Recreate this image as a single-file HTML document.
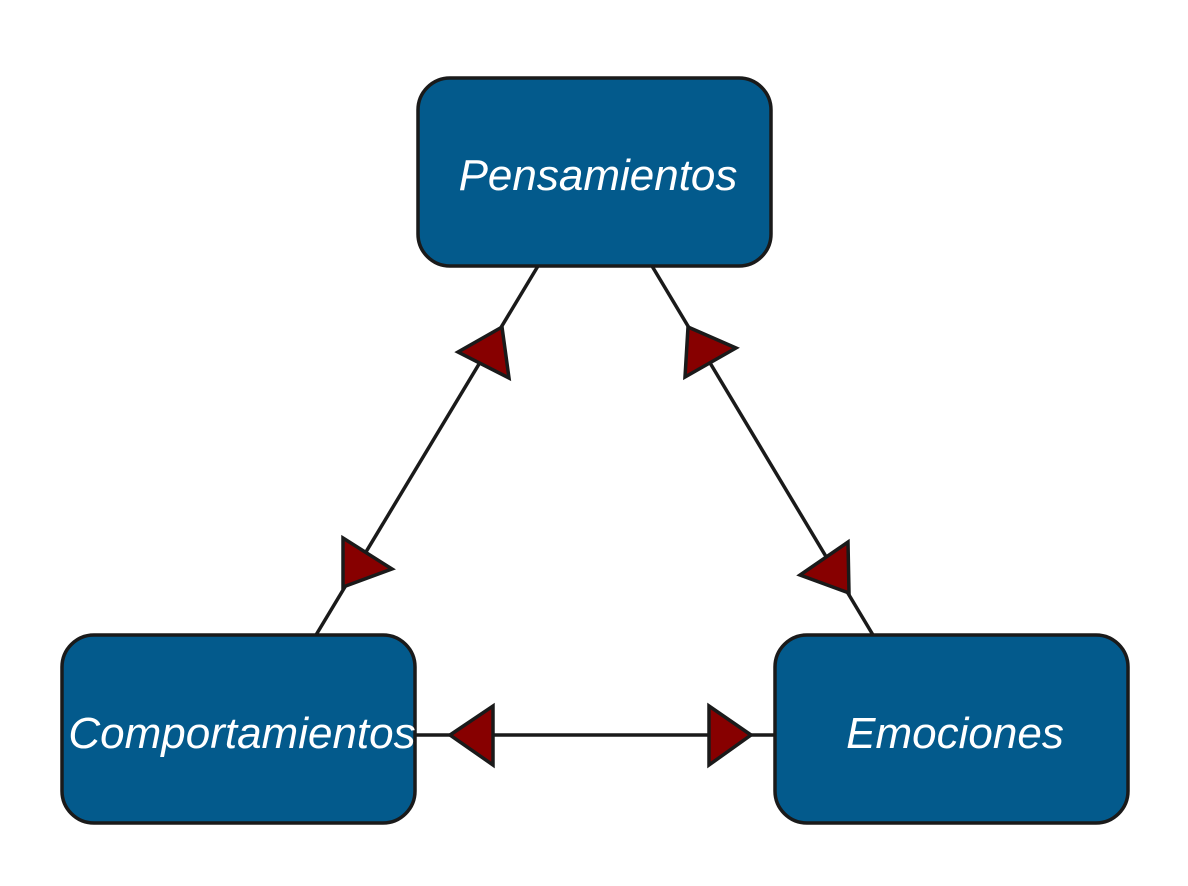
<!DOCTYPE html>
<html><head><meta charset="utf-8"><style>
html,body{margin:0;padding:0;background:#fff;}
svg{display:block;}
text{font-family:"Liberation Sans",sans-serif;font-style:italic;font-size:44px;fill:#fff;}
</style></head><body>
<svg width="1188" height="886" viewBox="0 0 1188 886" xmlns="http://www.w3.org/2000/svg">
<g stroke="#1a1a1a" stroke-width="3.5" fill="none">
<line x1="538" y1="266" x2="316" y2="635"/>
<line x1="652" y1="266" x2="873" y2="635"/>
<line x1="415" y1="735" x2="775" y2="735"/>
</g>
<g fill="#870000" stroke="#1a1a1a" stroke-width="3.5" stroke-linejoin="miter">
<polygon points="458,352 502,327 509,378"/>
<polygon points="343,538 392,569 343,587"/>
<polygon points="688,327 736,348 685,377"/>
<polygon points="848,542 849,593 800,575"/>
<polygon points="450,735 493,706 493,765"/>
<polygon points="751,735 709,706 709,765"/>
</g>
<g fill="#035a8c" stroke="#1a1a1a" stroke-width="3.5">
<rect x="418" y="78" width="353" height="188" rx="32"/>
<rect x="62" y="635" width="353" height="188" rx="32"/>
<rect x="775" y="635" width="353" height="188" rx="32"/>
</g>
<text x="598" y="190" text-anchor="middle">Pensamientos</text>
<text x="242" y="748" text-anchor="middle">Comportamientos</text>
<text x="955" y="748" text-anchor="middle">Emociones</text>
</svg>
</body></html>
